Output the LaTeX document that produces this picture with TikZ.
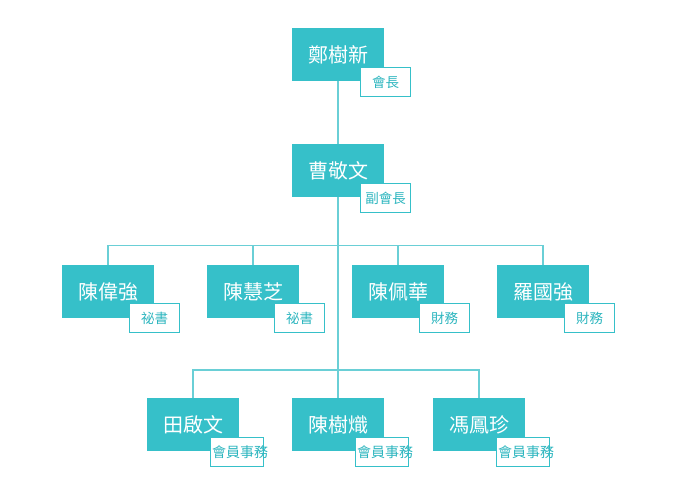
\documentclass[tikz,border=0pt]{standalone}
\usepackage{fontspec}
\setmainfont{Noto Sans CJK TC}
\newfontfamily\cjk{Noto Sans CJK TC}
\definecolor{teal1}{HTML}{36C0C9}
\definecolor{lineC}{HTML}{6ACFD6}
\definecolor{labC}{HTML}{2DB6BF}
\tikzset{
  namebox/.style={draw=none, fill=teal1, minimum width=92pt, minimum height=53pt, inner sep=0pt, text=white, font=\cjk\fontsize{20}{23}\selectfont, anchor=north west},
  rolebox/.style={draw=teal1, line width=1pt, fill=white, minimum width=50pt, minimum height=29pt, inner sep=0pt, text=labC, font=\cjk\fontsize{13.5}{15}\selectfont, anchor=north west},
  conn/.style={draw=lineC, line width=1.5pt},
}
\begin{document}
\begin{tikzpicture}[x=1pt,y=-1pt]
\useasboundingbox (0,0) rectangle (700,493);
\coordinate (bar2) at (338,245.5);
\coordinate (bar3) at (338,370);
% name boxes
\node[namebox] (p1) at (292,28) {鄭樹新};
\node[namebox] (p2) at (292,144) {曹敬文};
\node[namebox] (a1) at (62,265) {陳偉強};
\node[namebox] (a2) at (207,265) {陳慧芝};
\node[namebox] (a3) at (352,265) {陳佩華};
\node[namebox] (a4) at (497,265) {羅國強};
\node[namebox] (b1) at (147,398) {田啟文};
\node[namebox] (b2) at (292,398) {陳樹熾};
\node[namebox] (b3) at (433,398) {馮鳳珍};
% connectors
\draw[conn] (p1.south) -- (p2.north);
\draw[conn] (p2.south) -- (b2.north);
\draw[conn] (a1.north) |- (bar2) -| (a4.north);
\draw[conn] (a2.north) -- (a2.north |- bar2);
\draw[conn] (a3.north) -- (a3.north |- bar2);
\draw[conn] (b1.north) |- (bar3) -| (b3.north);
% role boxes
\node[rolebox] (r1) at (360,67) {會長};
\node[rolebox] (r2) at (360,183) {副會長};
\node[rolebox] (ra1) at (129,303) {祕書};
\node[rolebox] (ra2) at (274,303) {祕書};
\node[rolebox] (ra3) at (419,303) {財務};
\node[rolebox] (ra4) at (564,303) {財務};
\node[rolebox, minimum width=53pt] (rb1) at (210,437) {};
\node[rolebox, minimum width=53pt] (rb2) at (355,437) {};
\node[rolebox, minimum width=53pt] (rb3) at (496,437) {};
\foreach \r in {rb1,rb2,rb3}{
  \node[text=labC, font=\cjk\fontsize{14}{16}\selectfont, inner sep=0pt, anchor=west] at ([xshift=2pt]\r.west) {會員事務};
}
\end{tikzpicture}
\end{document}
